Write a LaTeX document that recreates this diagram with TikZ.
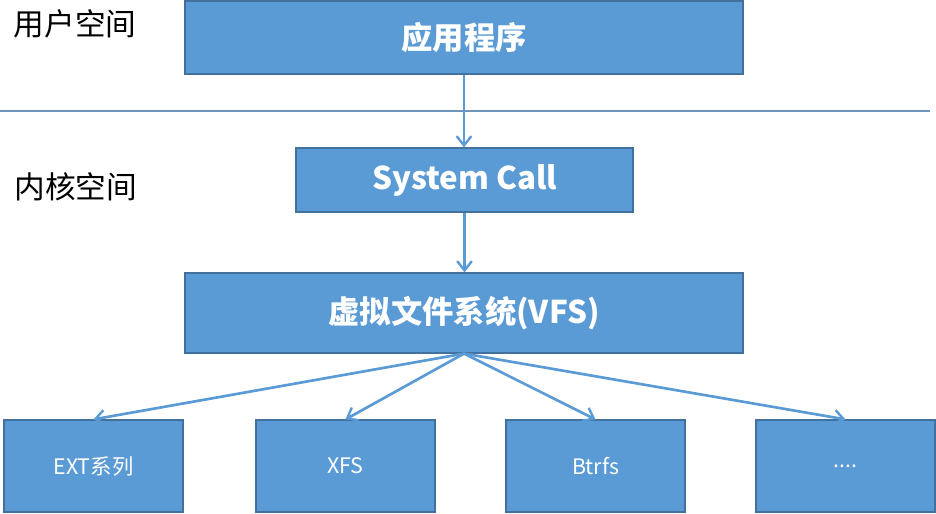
\documentclass[tikz,border=0pt]{standalone}
\usepackage{fontspec}
\newfontfamily\cjk{Noto Sans CJK SC}
\usetikzlibrary{arrows.meta}
\definecolor{box-fill}{HTML}{5B9BD5}
\definecolor{box-edge}{HTML}{41719C}
\definecolor{divider}{HTML}{6F95BC}

\begin{document}
\begin{tikzpicture}[x=0.75pt, y=-0.75pt,
    every node/.style={font=\cjk},
    layer/.style={draw=box-edge, line width=0.9pt, fill=box-fill, text=white, inner sep=0pt,
      font=\cjk\bfseries\fontsize{23.5}{26}\selectfont},
    fsbox/.style={draw=box-edge, line width=0.9pt, fill=box-fill, text=white, inner sep=0pt,
      minimum width=134.25pt, minimum height=69pt, font=\cjk\fontsize{16}{18}\selectfont},
    link/.style={-{Straight Barb[length=7pt, width=11pt, line width=1.8pt]}, line width=2pt, color=box-fill}]
    \useasboundingbox (0,0) rectangle (936,514);
    % user space / kernel space
    \node (user) at (75,24) {\fontsize{23}{26}\selectfont 用户空间};
    \node (kernel) at (76,187) {\fontsize{23}{26}\selectfont 内核空间};
    \draw[divider, line width=0.8pt] (0,111) -- (930,111);
    % layers
    \node[layer, minimum width=418.5pt, minimum height=54.75pt] (app) at (464,37.5) {应用程序};
    \node[layer, minimum width=252.75pt, minimum height=48pt] (syscall) at (464.5,180) {System Call};
    \node[layer, minimum width=418.5pt, minimum height=60pt] (vfs) at (464,313) {虚拟文件系统(VFS)};
    % file systems
    \node[fsbox] (ext) at (93.5,466) {EXT系列};
    \node[fsbox] (xfs) at (345.5,466) {XFS};
    \node[fsbox] (btrfs) at (595.5,466) {Btrfs};
    \node[fsbox] (more) at (845.5,466) {....};
    \draw[link] (app.south) -- (app.south |- syscall.north);
    \draw[link] (syscall.south) -- (syscall.south |- vfs.north);
    \draw[link] (vfs.south) -- (ext.north);
    \draw[link] (vfs.south) -- (xfs.north);
    \draw[link] (vfs.south) -- (btrfs.north);
    \draw[link] (vfs.south) -- (more.north);
  \end{tikzpicture}
\end{document}
